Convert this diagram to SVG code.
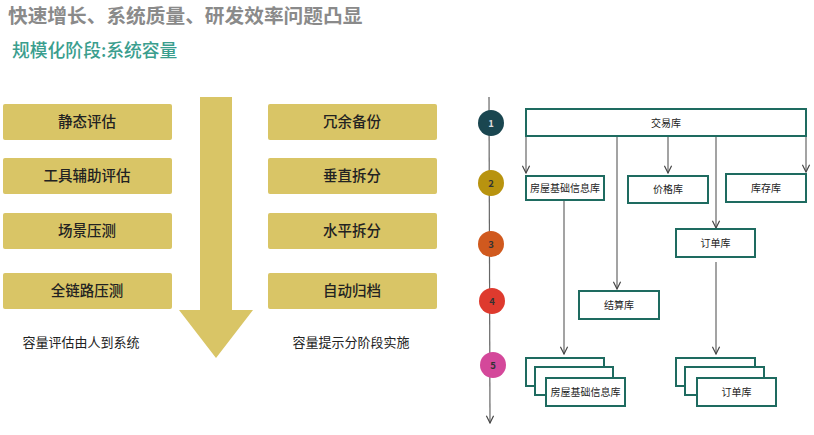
<svg xmlns="http://www.w3.org/2000/svg" width="814" height="435" viewBox="0 0 814 435">
<defs>
<style>
text{font-family:"Noto Sans CJK SC","Liberation Sans",sans-serif}
.tb{fill:#D9C566}
.tt{font-size:14.5px;font-weight:500;fill:#222;text-anchor:middle}
.cap{font-size:13px;fill:#222;text-anchor:middle}
.db{fill:#fff;stroke:#1E6B60;stroke-width:2}
.dt{font-size:10px;fill:#222;text-anchor:middle}
.ln{stroke:#666;stroke-width:1.2;fill:none}
.ct{font-size:9.5px;font-weight:700;text-anchor:middle}
</style>
<marker id="ah" viewBox="0 0 10 10" refX="9" refY="5" markerWidth="9" markerHeight="9" orient="auto" markerUnits="userSpaceOnUse">
<path d="M1,1 L9,5 L1,9" fill="none" stroke="#444" stroke-width="1.3"/>
</marker>
</defs>
<rect width="814" height="435" fill="#fff"/>
<g id="title">
<text x="8" y="22.5" font-size="19.7" font-weight="700" fill="#8A8A8A">快速增长、系统质量、研发效率问题凸显</text>
<text x="12" y="57" font-size="17.8" font-weight="500" fill="#3A9E8E">规模化阶段:系统容量</text>
</g>
<g id="bigArrow">
<path d="M200,97 H232 V310 H253 L216,358 L179,310 H200 Z" fill="#D9C566"/>
</g>
<g id="left-boxes">
<g id="b-jt"><rect class="tb" x="3" y="104" width="169" height="36" rx="2"/><text class="tt" x="87" y="127">静态评估</text></g>
<g id="b-gj"><rect class="tb" x="3" y="158" width="169" height="36" rx="2"/><text class="tt" x="87" y="181">工具辅助评估</text></g>
<g id="b-cj"><rect class="tb" x="3" y="213" width="169" height="36" rx="2"/><text class="tt" x="87" y="236">场景压测</text></g>
<g id="b-ql"><rect class="tb" x="3" y="273" width="169" height="36" rx="2"/><text class="tt" x="87" y="296">全链路压测</text></g>
<text class="cap" x="81" y="347">容量评估由人到系统</text>
</g>
<g id="right-boxes">
<g id="b-ry"><rect class="tb" x="268" y="104" width="169" height="36" rx="2"/><text class="tt" x="352" y="127">冗余备份</text></g>
<g id="b-cz"><rect class="tb" x="268" y="158" width="169" height="36" rx="2"/><text class="tt" x="352" y="181">垂直拆分</text></g>
<g id="b-sp"><rect class="tb" x="268" y="213" width="169" height="36" rx="2"/><text class="tt" x="352" y="236">水平拆分</text></g>
<g id="b-zd"><rect class="tb" x="268" y="273" width="169" height="36" rx="2"/><text class="tt" x="352" y="296">自动归档</text></g>
<text class="cap" x="351" y="347">容量提示分阶段实施</text>
</g>
<g id="connectors">
<line class="ln" x1="489" y1="97" x2="490" y2="423" stroke="#555" marker-end="url(#ah)"/>
<line class="ln" x1="526" y1="136" x2="526" y2="173" marker-end="url(#ah)"/>
<line class="ln" x1="617" y1="136" x2="617" y2="289" marker-end="url(#ah)"/>
<line class="ln" x1="668" y1="136" x2="668" y2="173" marker-end="url(#ah)"/>
<line class="ln" x1="716" y1="136" x2="716" y2="228" marker-end="url(#ah)"/>
<line class="ln" x1="806" y1="136" x2="806" y2="172" marker-end="url(#ah)"/>
<line class="ln" x1="564" y1="200" x2="564" y2="354" marker-end="url(#ah)"/>
<line class="ln" x1="716" y1="262" x2="716" y2="354" marker-end="url(#ah)"/>
</g>
<g id="steps">
<g id="s1"><circle cx="491" cy="123" r="13" fill="#1A4650"/><text class="ct" x="491" y="126.5" fill="#ddd">1</text></g>
<g id="s2"><circle cx="491" cy="183" r="13" fill="#B8930F"/><text class="ct" x="491" y="186.5" fill="#333">2</text></g>
<g id="s3"><circle cx="491" cy="244" r="13" fill="#D0591E"/><text class="ct" x="491" y="247.5" fill="#333">3</text></g>
<g id="s4"><circle cx="492" cy="301" r="13" fill="#DE3A2E"/><text class="ct" x="492" y="304.5" fill="#333">4</text></g>
<g id="s5"><circle cx="493" cy="365" r="13" fill="#D4489A"/><text class="ct" x="493" y="368.5" fill="#333">5</text></g>
</g>
<g id="n-jy"><rect class="db" x="526" y="109" width="280" height="27"/><text class="dt" x="666" y="126.5">交易库</text></g>
<g id="n-fw"><rect class="db" x="526" y="176" width="78" height="24"/><text class="dt" x="565" y="191.5">房屋基础信息库</text></g>
<g id="n-jg"><rect class="db" x="628" y="176" width="80" height="27"/><text class="dt" x="668" y="193">价格库</text></g>
<g id="n-kc"><rect class="db" x="726" y="174" width="80" height="28"/><text class="dt" x="766" y="191.5">库存库</text></g>
<g id="n-dd"><rect class="db" x="676" y="229" width="79" height="28"/><text class="dt" x="715.5" y="246.5">订单库</text></g>
<g id="n-js"><rect class="db" x="579" y="291" width="80" height="28"/><text class="dt" x="619" y="308.5">结算库</text></g>
<g id="n-fw5">
<rect class="db" x="526" y="358" width="78" height="28"/>
<rect class="db" x="535" y="367" width="78" height="28"/>
<rect class="db" x="546" y="378" width="79" height="28"/>
<text class="dt" x="585.5" y="395.5">房屋基础信息库</text>
</g>
<g id="n-dd5">
<rect class="db" x="676" y="358" width="79" height="28"/>
<rect class="db" x="685" y="367" width="79" height="28"/>
<rect class="db" x="697" y="378" width="79" height="28"/>
<text class="dt" x="736.5" y="395.5">订单库</text>
</g>
</svg>
